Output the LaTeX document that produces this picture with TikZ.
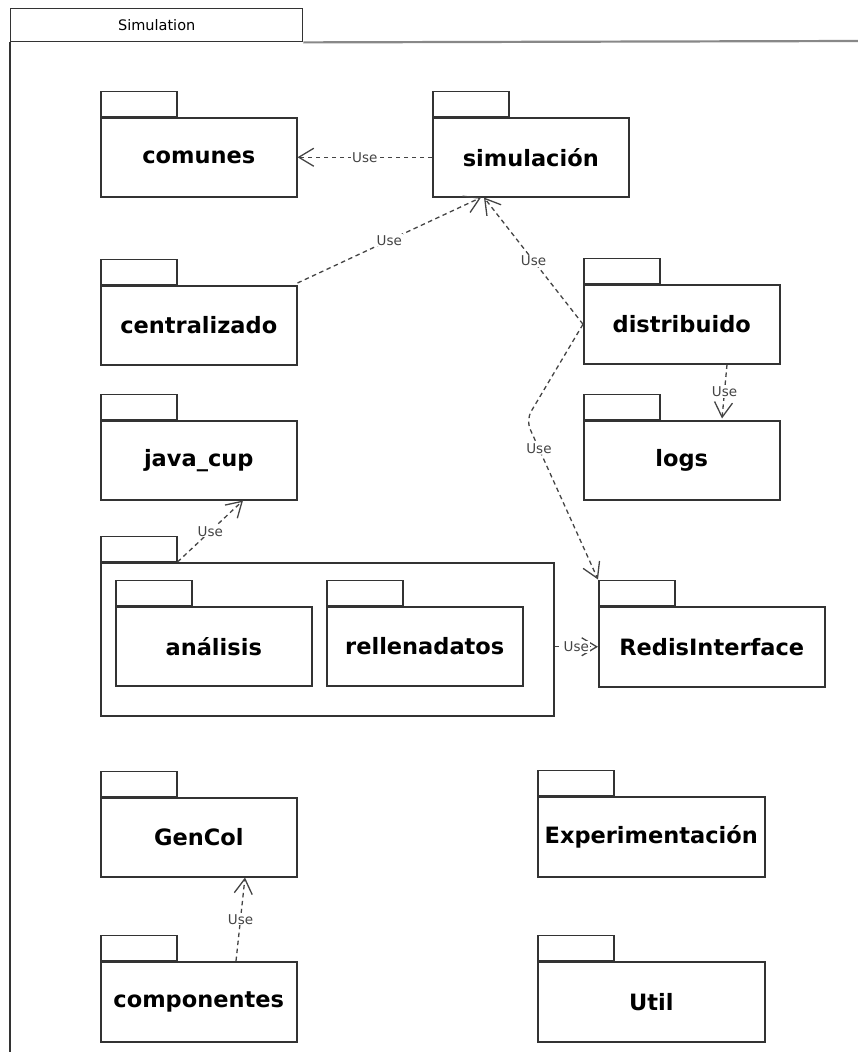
\documentclass[tikz,border=0pt]{standalone}
\usepackage{fontspec}
\setmainfont{DejaVu Sans}
\setsansfont{DejaVu Sans}
\usetikzlibrary{arrows.meta,calc,positioning}

\definecolor{edge}{HTML}{333333}
\definecolor{dep}{HTML}{444444}
\definecolor{frame}{HTML}{888888}

\tikzset{
  pkgbody/.style={draw=edge, line width=1.5pt, fill=white, anchor=north west,
    minimum width=196pt, minimum height=79pt, inner sep=0pt,
    font=\fontsize{22.5}{24}\selectfont\bfseries},
  pkgtab/.style={draw=edge, line width=1.5pt, fill=white, anchor=south west,
    minimum width=76pt, minimum height=25pt, inner sep=0pt},
  usedep/.style={draw=dep, line width=1.3pt, dash pattern=on 4.5pt off 3.5pt,
    -{Straight Barb[length=15pt,width=18pt,line width=1.3pt]}},
  uselbl/.style={fill=white, inner sep=1pt, text=dep,
    font=\fontsize{13.5}{15}\selectfont}
}

\begin{document}
\begin{tikzpicture}[x=1pt,y=-1pt]
\useasboundingbox (0,0) rectangle (858,1052);

% enclosing package frame
\node[draw=edge, line width=1.4pt, minimum width=292pt, minimum height=33pt,
  anchor=north west, inner sep=0pt, font=\fontsize{14.5}{16}\selectfont] (frametab) at (10,8) {Simulation};
\draw[frame, line width=2.2pt] (frametab.south east) -- (858,41);
\draw[edge, line width=1.5pt] (frametab.south west) -- (10,1052);

% packages
\node[pkgbody] (comunes) at (100,117) {comunes};
\node[pkgtab] (comunes-tab) at (comunes.north west) {};
\node[pkgbody] (simul) at (432,117) {simulación};
\node[pkgtab] (simul-tab) at (simul.north west) {};
\node[pkgbody] (central) at (100,285) {centralizado};
\node[pkgtab] (central-tab) at (central.north west) {};
\node[pkgbody] (distrib) at (583,284) {distribuido};
\node[pkgtab] (distrib-tab) at (distrib.north west) {};
\node[pkgbody] (javacup) at (100,420) {java\_cup};
\node[pkgtab] (javacup-tab) at (javacup.north west) {};
\node[pkgbody] (logs) at (583,420) {logs};
\node[pkgtab] (logs-tab) at (logs.north west) {};

\node[pkgbody, minimum width=453pt, minimum height=153pt] (cont) at (100,562) {};
\node[pkgtab] (cont-tab) at (cont.north west) {};
\node[pkgbody] (analisis) at (115,606) {análisis};
\node[pkgtab] (analisis-tab) at (analisis.north west) {};
\node[pkgbody] (rellena) at (326,606) {rellenadatos};
\node[pkgtab] (rellena-tab) at (rellena.north west) {};
\node[pkgbody, minimum width=226pt, minimum height=80pt] (redis) at (598,606) {RedisInterface};
\node[pkgtab] (redis-tab) at (redis.north west) {};

\node[pkgbody] (gencol) at (100,797) {GenCol};
\node[pkgtab] (gencol-tab) at (gencol.north west) {};
\node[pkgbody, minimum width=227pt, minimum height=80pt] (experim) at (537,796) {Experimentación};
\node[pkgtab] (experim-tab) at (experim.north west) {};
\node[pkgbody, minimum height=80pt] (compon) at (100,961) {componentes};
\node[pkgtab] (compon-tab) at (compon.north west) {};
\node[pkgbody, minimum width=227pt, minimum height=80pt] (util) at (537,961) {Util};
\node[pkgtab] (util-tab) at (util.north west) {};

% dependencies
\coordinate (simulA) at ($(simul.south west)+(49,0)$);
\coordinate (simulB) at ($(simul.south west)+(52,0)$);
\coordinate (bend) at (526,420);

\draw[usedep] (simul.west) -- node[uselbl] {Use} (comunes.east);
\draw[usedep] ($(central.north east)+(0,-2)$) -- node[uselbl] {Use} (simulA);
\draw[usedep] (distrib.west) -- node[uselbl] {Use} (simulB);
\draw[usedep, rounded corners=10pt] (distrib.west) -- (bend) -- node[uselbl, pos=0.18] {Use} (redis-tab.north west);
\draw[usedep] ($(distrib.south west)+(144,0)$) -- node[uselbl] {Use} ($(logs-tab.north west)+(139,25)$);
\draw[usedep] (cont-tab.south east) -- node[uselbl] {Use} ($(javacup.south west)+(143,0)$);
\draw[usedep] (cont.east |- redis.west) -- node[uselbl] {Use} (redis.west);
\draw[usedep] ($(compon-tab.south west)+(136,0)$) -- node[uselbl] {Use} ($(gencol.south west)+(145,0)$);
\end{tikzpicture}
\end{document}
